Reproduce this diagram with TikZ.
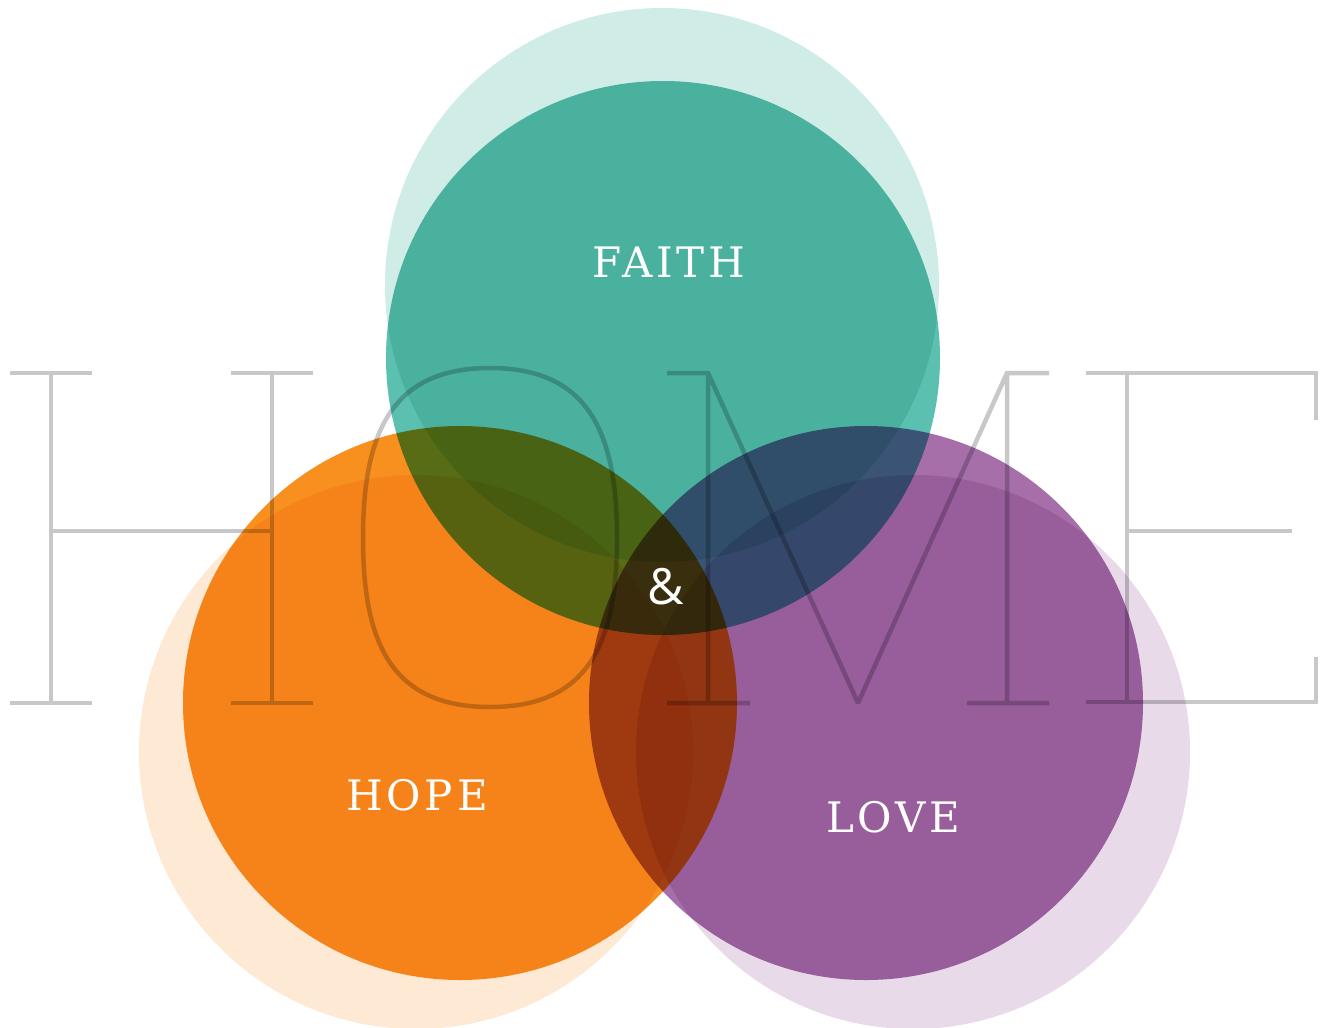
\documentclass[tikz,border=0pt]{standalone}
\usepackage{fontspec}
\setmainfont{DejaVu Serif}
\newfontfamily\ampfont{Open Sans}
\usepackage{xcolor}
\usetikzlibrary{positioning}
\definecolor{faithteal}{HTML}{5BC0B0}
\definecolor{faithpale}{HTML}{D0ECE7}
\definecolor{hopeorange}{HTML}{F7901F}
\definecolor{hopepale}{HTML}{FDE9D4}
\definecolor{lovepurple}{HTML}{A66FAA}
\definecolor{lovepale}{HTML}{E8DAE9}
\definecolor{homegray}{HTML}{C8C8CA}

\begin{document}
\begin{tikzpicture}[x=1pt, y=-1pt]
  \tikzstyle{glyph}=[draw=homegray, line width=4.5pt, line join=miter, miter limit=2]
  \tikzstyle{word}=[text=white, inner sep=0pt, font=\fontsize{42}{50}\selectfont\addfontfeature{LetterSpace=9}]
  \useasboundingbox (0,0) rectangle (1323,1028);
  \begin{scope}[blend mode=multiply]
    % pale halos
    \fill[faithpale] (662,285) circle (277);
    \fill[hopepale] (416,752) circle (277);
    \fill[lovepale] (913,752) circle (277);
    % main circles
    \fill[faithteal] (663,358) circle (277);
    \fill[hopeorange] (460,703) circle (277);
    \fill[lovepurple] (866,703) circle (277);
    % H
    \draw[glyph] (10,373) -- (92,373) (51,373) -- (51,703) (10,703) -- (92,703)
      (231,373) -- (313,373) (272,373) -- (272,703) (231,703) -- (313,703)
      (51,531) -- (272,531);
    % O
    \draw[glyph] (490,368) .. controls (392,368) and (363,432) .. (363,538)
      .. controls (363,644) and (392,707) .. (490,707)
      .. controls (588,707) and (617,644) .. (617,538)
      .. controls (617,432) and (588,368) .. (490,368) -- cycle;
    % M
    \draw[glyph] (667,373) -- (708,373) -- (858,703) -- (1007,373) -- (1049,373)
      (708,373) -- (708,703) (667,703) -- (750,703)
      (1007,373) -- (1007,703) (967,703) -- (1049,703);
    % E
    \draw[glyph] (1316,420) -- (1316,373) -- (1086,373) (1127,373) -- (1127,702)
      (1127,531) -- (1292,531) (1316,657) -- (1316,702) -- (1086,702);
  \end{scope}
  \node[word] (faith) at (669,262) {FAITH};
  \node[word] (hope) at (417,795) {HOPE};
  \node[word] (love) at (893,817) {LOVE};
  \node[text=white, inner sep=0pt, font=\ampfont\fontsize{50}{60}\selectfont] (amp) at (666,587) {\&};
\end{tikzpicture}
\end{document}
